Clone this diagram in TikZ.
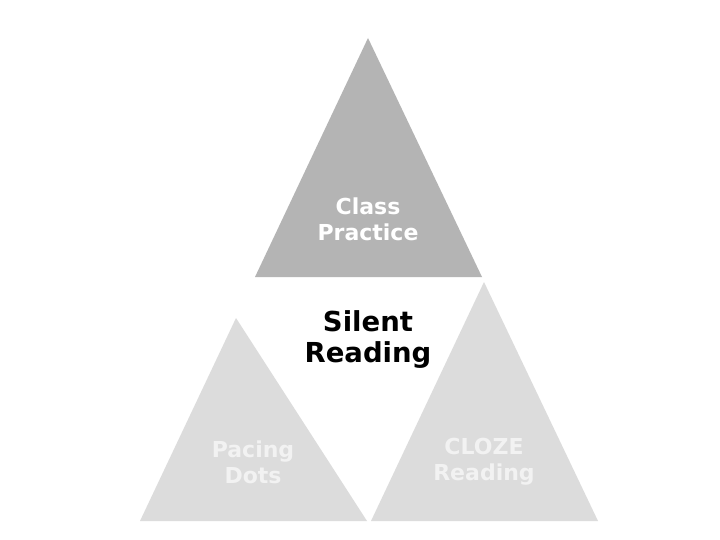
\documentclass[tikz,border=0pt]{standalone}
\usepackage{fontspec}
\setmainfont{DejaVu Sans}
\begin{document}
\begin{tikzpicture}[x=1pt,y=-1pt,
  lbl/.style={font=\bfseries\fontsize{22}{26}\selectfont, align=center, inner sep=0pt},
  toptri/.style={fill=topgray, draw=none},
  bottri/.style={fill=botgray, draw=none}]
\definecolor{topgray}{RGB}{180,180,180}
\definecolor{botgray}{RGB}{220,220,220}
\definecolor{paletext}{RGB}{242,242,242}
\useasboundingbox[fill=white] (0,0) rectangle (720,540);
\fill[toptri] (368,38) -- (482,277) -- (255,277) -- cycle;
\fill[bottri] (236,318) -- (367,521) -- (140,521) -- cycle;
\fill[bottri] (484,282) -- (598,521) -- (371,521) -- cycle;
\node[lbl, text=white] (cp) at (368,219) {Class\\Practice};
\node[lbl, text=black, font=\bfseries\fontsize{27.5}{31}\selectfont] (sr) at (368,340) {Silent\\Reading};
\node[lbl, text=paletext] (pd) at (253,462) {Pacing\\Dots};
\node[lbl, text=paletext] (cr) at (484,462) {CLOZE\\Reading};
\end{tikzpicture}
\end{document}
